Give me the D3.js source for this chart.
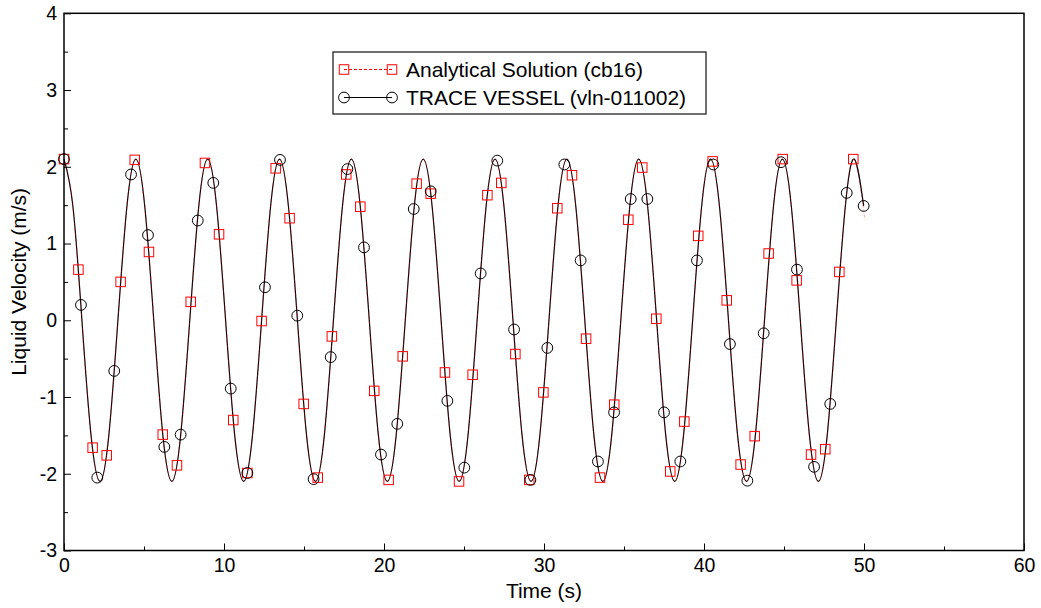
<!DOCTYPE html>
<html>
<head>
<meta charset="utf-8">
<script src="https://cdn.jsdelivr.net/npm/d3@7"></script>
<style>
  body { margin: 0; background: #fff; }
  svg { font-family: "Liberation Sans", Arial, sans-serif; }
</style>
</head>
<body>
<svg id="chart" width="1041" height="608"></svg>
<script>
// smooth curve (peaks, troughs, zero crossings and in-between points)
const curveTime = [0, 0.56, 1.12, 1.68, 2.25, 2.81, 3.37, 3.93, 4.49, 5.05, 5.61, 6.17, 6.74, 7.30, 7.86, 8.42,
  8.98, 9.54, 10.10, 10.66, 11.23, 11.79, 12.35, 12.91, 13.47, 14.03, 14.59, 15.15, 15.72, 16.28, 16.84, 17.40,
  17.96, 18.52, 19.08, 19.64, 20.21, 20.77, 21.33, 21.89, 22.45, 23.01, 23.57, 24.13, 24.70, 25.26, 25.82, 26.38,
  26.94, 27.50, 28.06, 28.62, 29.19, 29.75, 30.31, 30.87, 31.43, 31.99, 32.55, 33.11, 33.68, 34.24, 34.80, 35.36,
  35.92, 36.48, 37.04, 37.60, 38.17, 38.73, 39.29, 39.85, 40.41, 40.97, 41.53, 42.09, 42.66, 43.22, 43.78, 44.34,
  44.90, 45.46, 46.02, 46.58, 47.15, 47.71, 48.27, 48.83, 49.39]
const curveVel = [2.1, 1.48, 0, -1.48, -2.1, -1.48, 0, 1.48, 2.1, 1.48, 0, -1.48, -2.1, -1.48, 0, 1.48,
  2.1, 1.48, 0, -1.48, -2.1, -1.48, 0, 1.48, 2.1, 1.48, 0, -1.48, -2.1, -1.48, 0, 1.48,
  2.1, 1.48, 0, -1.48, -2.1, -1.48, 0, 1.48, 2.1, 1.48, 0, -1.48, -2.1, -1.48, 0, 1.48,
  2.1, 1.48, 0, -1.48, -2.1, -1.48, 0, 1.48, 2.1, 1.48, 0, -1.48, -2.1, -1.48, 0, 1.48,
  2.1, 1.48, 0, -1.48, -2.1, -1.48, 0, 1.48, 2.1, 1.48, 0, -1.48, -2.1, -1.48, 0, 1.48,
  2.1, 1.48, 0, -1.48, -2.1, -1.48, 0, 1.48, 2.1]
// each line ends a little differently at t = 50
const analyticalTailTime = [49.95, 50.04]
const analyticalTailVel = [1.48, 1.32]
const traceTailTime = [49.98]
const traceTailVel = [1.49]

// symbols (red squares / black circles)
const analyticalTime = [0, 0.90, 1.79, 2.67, 3.54, 4.42, 5.31, 6.17, 7.06, 7.92, 8.81, 9.69, 10.58, 11.46, 12.35,
  13.23, 14.10, 14.98, 15.86, 16.74, 17.64, 18.52, 19.39, 20.29, 21.17, 22.04, 22.92, 23.81, 24.69, 25.54,
  26.46, 27.33, 28.21, 29.08, 29.96, 30.83, 31.75, 32.63, 33.50, 34.39, 35.27, 36.14, 37.02, 37.89, 38.77,
  39.64, 40.54, 41.42, 42.29, 43.17, 44.04, 44.92, 45.79, 46.69, 47.58, 48.46, 49.33]
const analyticalVel = [2.10, 0.66, -1.66, -1.76, 0.50, 2.09, 0.89, -1.49, -1.89, 0.24, 2.05, 1.12, -1.30, -1.99, -0.01,
  1.98, 1.33, -1.09, -2.05, -0.21, 1.90, 1.48, -0.92, -2.08, -0.47, 1.78, 1.65, -0.68, -2.10, -0.71,
  1.63, 1.79, -0.44, -2.08, -0.94, 1.46, 1.89, -0.24, -2.05, -1.10, 1.31, 1.99, 0.02, -1.97, -1.32,
  1.10, 2.07, 0.26, -1.88, -1.51, 0.87, 2.10, 0.52, -1.75, -1.68, 0.63, 2.10]
const traceTime = [0, 1.06, 2.08, 3.14, 4.19, 5.25, 6.27, 7.29, 8.36, 9.33, 10.42, 11.46, 12.56, 13.50, 14.58,
  15.60, 16.67, 17.71, 18.75, 19.81, 20.83, 21.86, 22.92, 23.96, 25.02, 26.04, 27.08, 28.13, 29.15, 30.21,
  31.27, 32.29, 33.37, 34.38, 35.42, 36.46, 37.50, 38.52, 39.56, 40.58, 41.62, 42.71, 43.73, 44.81, 45.81,
  46.88, 47.89, 48.92, 49.98]
const traceVel = [2.10, 0.20, -2.05, -0.66, 1.90, 1.11, -1.65, -1.49, 1.30, 1.79, -0.89, -1.99, 0.43, 2.09, 0.06,
  -2.07, -0.48, 1.97, 0.95, -1.75, -1.35, 1.45, 1.68, -1.05, -1.92, 0.61, 2.08, -0.12, -2.08, -0.36,
  2.03, 0.78, -1.84, -1.20, 1.58, 1.58, -1.20, -1.84, 0.78, 2.03, -0.31, -2.09, -0.17, 2.06, 0.66,
  -1.91, -1.09, 1.66, 1.49]

const xTicks = [0, 10, 20, 30, 40, 50, 60]
const xMinor = [5, 15, 25, 35, 45, 55]
const yTicks = [-3, -2, -1, 0, 1, 2, 3, 4]
const yMinor = [-2.5, -1.5, -0.5, 0.5, 1.5, 2.5, 3.5]
const legendLabels = ['Analytical Solution (cb16)', 'TRACE VESSEL (vln-011002)']

const svg = d3.select('#chart')
const margin = { top: 13.3, left: 64, right: 17, bottom: 57.5 }
const width = 1041 - margin.left - margin.right
const height = 608 - margin.top - margin.bottom

const x = d3.scaleLinear().domain([0, 60]).range([0, width])
const y = d3.scaleLinear().domain([-3, 4]).range([height, 0])

const g = svg.append('g').attr('transform', `translate(${margin.left},${margin.top})`)

// axes, ticks pointing inward
const fmt = d => String(d)
g.append('g').attr('transform', `translate(0,${height})`)
  .call(d3.axisBottom(x).tickValues(xTicks).tickSize(-7).tickSizeOuter(0).tickPadding(8).tickFormat(fmt))
g.append('g').attr('transform', `translate(0,${height})`)
  .call(d3.axisBottom(x).tickValues(xMinor).tickSize(-4).tickSizeOuter(0).tickFormat(''))
g.append('g')
  .call(d3.axisLeft(y).tickValues(yTicks).tickSize(-7).tickSizeOuter(0).tickPadding(7).tickFormat(fmt))
g.append('g')
  .call(d3.axisLeft(y).tickValues(yMinor).tickSize(-4).tickSizeOuter(0).tickFormat(''))
g.selectAll('.domain').remove()
g.selectAll('.tick line').attr('stroke', '#000').attr('stroke-width', 1)
g.selectAll('.tick text').attr('font-size', 19.5).attr('fill', '#000')
  .attr('font-family', '"Liberation Sans", Arial, sans-serif')

// curves
const line = d3.line().curve(d3.curveNatural).x(d => x(d[0])).y(d => y(d[1]))
const analyticalCurve = d3.zip(curveTime.concat(analyticalTailTime), curveVel.concat(analyticalTailVel))
const traceCurve = d3.zip(curveTime.concat(traceTailTime), curveVel.concat(traceTailVel))

g.append('path').datum(traceCurve)
  .attr('d', line).attr('fill', 'none').attr('stroke', '#000').attr('stroke-width', 1.2)
g.append('path').datum(analyticalCurve)
  .attr('d', line).attr('fill', 'none').attr('stroke', '#ff0000').attr('stroke-width', 0.8)
  .attr('stroke-dasharray', '3,2').attr('stroke-opacity', 0.45)

// markers
const sq = 9.5
g.selectAll('.sq').data(d3.zip(analyticalTime, analyticalVel)).join('rect')
  .attr('x', d => x(d[0]) - sq / 2).attr('y', d => y(d[1]) - sq / 2)
  .attr('width', sq).attr('height', sq)
  .attr('fill', 'none').attr('stroke', '#ff0000').attr('stroke-width', 1)
g.selectAll('.ci').data(d3.zip(traceTime, traceVel)).join('circle')
  .attr('cx', d => x(d[0])).attr('cy', d => y(d[1])).attr('r', 5.4)
  .attr('fill', 'none').attr('stroke', '#000').attr('stroke-width', 1)

// frame
g.append('rect').attr('width', width).attr('height', height)
  .attr('fill', 'none').attr('stroke', '#000').attr('stroke-width', 1.5)

// axis titles
svg.append('text').attr('x', margin.left + width / 2).attr('y', 598)
  .attr('text-anchor', 'middle').attr('font-size', 21).text('Time (s)')
svg.append('text').attr('transform', `translate(26,${margin.top + height / 2}) rotate(-90)`)
  .attr('text-anchor', 'middle').attr('font-size', 21).text('Liquid Velocity (m/s)')

// legend
const lg = svg.append('g').attr('transform', 'translate(333,52)')
lg.append('rect').attr('width', 373).attr('height', 62)
  .attr('fill', '#fff').attr('stroke', '#222').attr('stroke-width', 1.3)
const rows = [17.5, 45.5]
lg.append('line').attr('x1', 11).attr('x2', 59).attr('y1', rows[0]).attr('y2', rows[0])
  .attr('stroke', '#ff0000').attr('stroke-dasharray', '3,2')
;[11, 59].forEach(px => {
  lg.append('rect').attr('x', px - sq / 2).attr('y', rows[0] - sq / 2).attr('width', sq).attr('height', sq)
    .attr('fill', 'none').attr('stroke', '#ff0000')
})
lg.append('line').attr('x1', 11).attr('x2', 59).attr('y1', rows[1]).attr('y2', rows[1]).attr('stroke', '#000')
;[11, 59].forEach(px => {
  lg.append('circle').attr('cx', px).attr('cy', rows[1]).attr('r', 5.4)
    .attr('fill', 'none').attr('stroke', '#000')
})
lg.selectAll('.lt').data(legendLabels).join('text')
  .attr('x', 73).attr('y', (d, i) => rows[i] + 7.5)
  .attr('font-size', 21).text(d => d)
</script>
</body>
</html>
